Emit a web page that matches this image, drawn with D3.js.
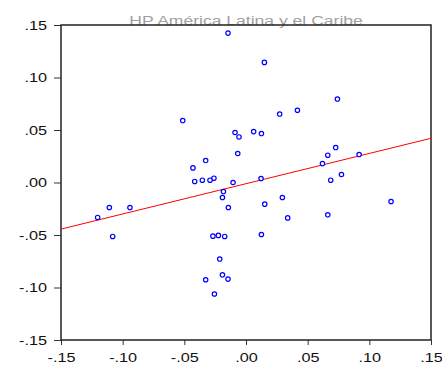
<!DOCTYPE html>
<html>
<head>
<meta charset="utf-8">
<script src="https://cdn.jsdelivr.net/npm/d3@7"></script>
<style>
body{margin:0;background:#fff;}
text{font-family:"Liberation Sans",Arial,sans-serif;}
</style>
</head>
<body>
<svg id="chart"></svg>
<script>
// scatter values (x, y)
var xVals = [-0.0146,0.0149,0.0741,0.0273,0.0417,-0.0513,-0.0089,-0.0057,0.0062,0.0125,
             0.0727,0.0663,0.0620,0.0917,0.0774,0.0687,0.1176,0.0663,0.0338,0.0295,
             0.0152,0.0122,0.0125,-0.0067,-0.0105,-0.0143,-0.0183,-0.0191,-0.0260,-0.0292,
             -0.0354,-0.0416,-0.0430,-0.0327,-0.0941,-0.1108,-0.1203,-0.1081,-0.0268,-0.0224,
             -0.0173,-0.0213,-0.0191,-0.0146,-0.0327,-0.0256];
var yVals = [0.1423,0.1144,0.0795,0.0652,0.0688,0.0590,0.0476,0.0434,0.0485,0.0466,
             0.0333,0.0260,0.0180,0.0266,0.0076,0.0022,-0.0181,-0.0308,-0.0337,-0.0143,
             -0.0206,0.0038,-0.0495,0.0276,0.0000,-0.0238,-0.0086,-0.0143,0.0041,0.0022,
             0.0022,0.0010,0.0139,0.0209,-0.0238,-0.0238,-0.0333,-0.0514,-0.0511,-0.0504,
             -0.0514,-0.0729,-0.0879,-0.0920,-0.0926,-0.1062];

// fitted line ends
var fitX = [-0.15,0.15];
var fitY = [-0.0444,0.0421];

var ticks = [-0.15,-0.10,-0.05,0.00,0.05,0.10,0.15];
var tickLabels = ["-.15","-.10","-.05",".00",".05",".10",".15"];
var title = "HP América Latina y el Caribe";

var screen = {width:442, height:374};
var margins = {top:25, bottom:34, left:61, right:11};
var graph = {
    width:screen.width-margins.left-margins.right,
    height:screen.height-margins.top-margins.bottom
};

var svg = d3.select("#chart")
    .attr("width",screen.width)
    .attr("height",screen.height);

var xScale = d3.scaleLinear().domain([-0.15,0.15]).range([0,graph.width]);
var yScale = d3.scaleLinear().domain([-0.15,0.15]).range([graph.height,0]);

// title sits behind the frame, text is a bit stretched sideways
svg.append("text")
    .attr("transform","translate("+(margins.left+graph.width/2)+",25) scale(1.3,1)")
    .attr("text-anchor","middle")
    .attr("font-size","13.5px")
    .attr("fill","#a0a0a0")
    .text(title);

var g = svg.append("g")
    .attr("transform","translate("+margins.left+","+margins.top+")");

var fmt = function(d){ return tickLabels[ticks.indexOf(d)]; };

var xAxis = g.append("g")
    .attr("transform","translate(0,"+graph.height+")")
    .call(d3.axisBottom(xScale).tickValues(ticks).tickFormat(fmt).tickSize(5).tickPadding(7.5));
var yAxis = g.append("g")
    .call(d3.axisLeft(yScale).tickValues(ticks).tickFormat(fmt).tickSize(7).tickPadding(5));

[xAxis,yAxis].forEach(function(a){
    a.select(".domain").remove();
    a.selectAll("line").attr("stroke","#333");
    a.selectAll("text").attr("font-size","13px").attr("fill","#111")
        .attr("font-family","'Liberation Sans',Arial,sans-serif")
        .attr("transform","scale(1.25,1)");
});
yAxis.selectAll("text").attr("x",-14/1.25);

// frame
g.append("rect")
    .attr("x",0).attr("y",0)
    .attr("width",graph.width).attr("height",graph.height)
    .attr("fill","none")
    .attr("stroke","#222")
    .attr("stroke-width",1.5);

// regression line
var line = d3.line()
    .x(function(d){ return xScale(d[0]); })
    .y(function(d){ return yScale(d[1]); });
g.append("path")
    .datum(d3.zip(fitX,fitY))
    .attr("d",line)
    .attr("fill","none")
    .attr("stroke","#ff0000")
    .attr("stroke-width",1);

// points
g.selectAll("circle")
    .data(d3.zip(xVals,yVals))
    .enter()
    .append("circle")
    .attr("cx",function(d){ return xScale(d[0]); })
    .attr("cy",function(d){ return yScale(d[1]); })
    .attr("r",2.2)
    .attr("fill","#fff")
    .attr("stroke","#0000ff")
    .attr("stroke-width",1.2);
</script>
</body>
</html>
